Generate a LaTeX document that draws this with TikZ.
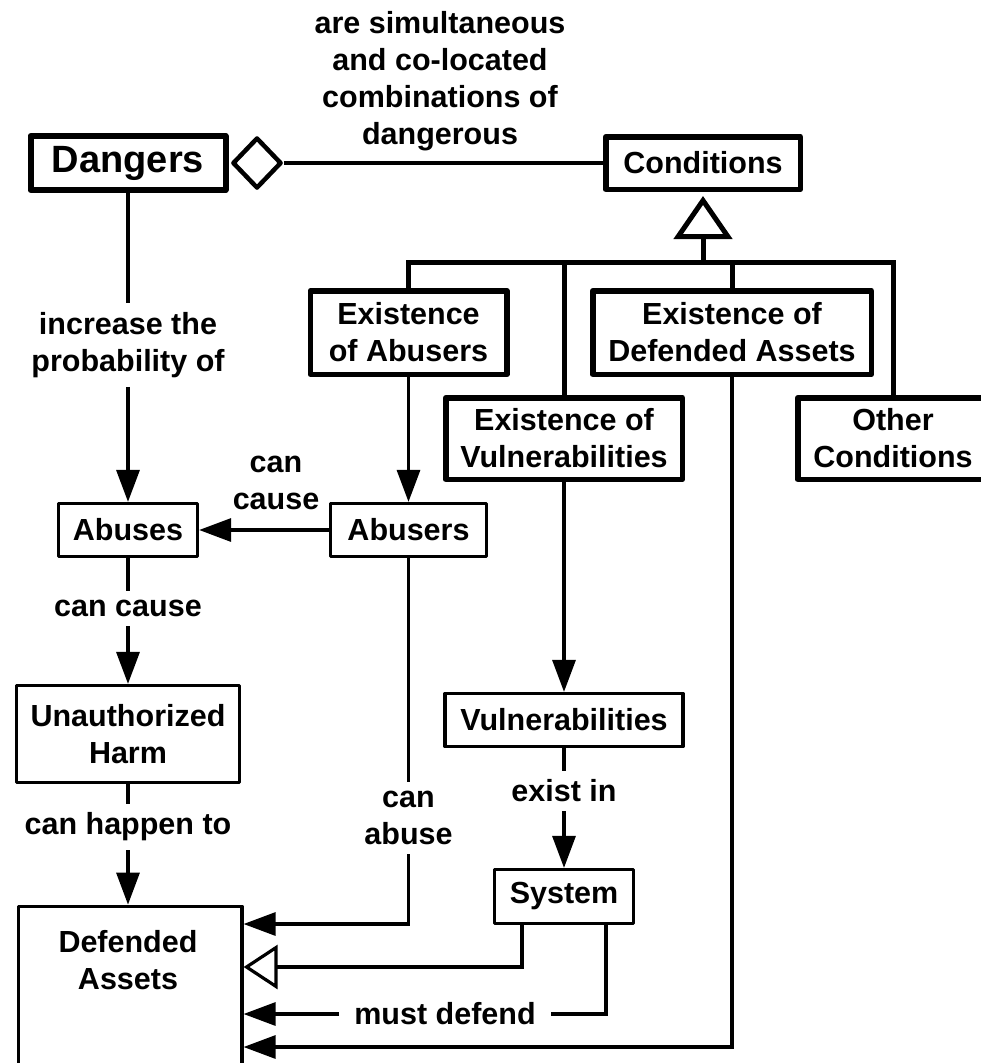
\documentclass[tikz,border=0pt]{standalone}
\usepackage{fontspec}
\setmainfont{Liberation Sans}
\usetikzlibrary{arrows.meta,shapes.geometric,calc}

\begin{document}
\begin{tikzpicture}[x=1pt,y=-1pt,
  every node/.style={font=\bfseries\fontsize{30.5}{37}\selectfont},
  box/.style={draw, line width=3.2pt, line join=round, inner sep=0pt, align=center},
  heavybox/.style={box, line width=5.5pt},
  lbl/.style={align=center, inner xsep=12pt, inner ysep=9pt},
  conn/.style={line width=3.2pt},
  arr/.style={conn, -{Triangle[length=32pt,width=23pt]}},
  genarr/.style={conn, -{Triangle[open,length=34pt,width=44pt,fill=white]}},
  tree/.style={line width=5pt},
]
\useasboundingbox (0,0) rectangle (981,1063);

% top row: aggregate and its parts
\node[heavybox, line width=6pt, minimum width=195pt, minimum height=54pt,
      font=\bfseries\fontsize{38}{44}\selectfont] (dangers) at (128,163) {Dangers};
\node[heavybox, minimum width=194.5pt, minimum height=52.5pt] (conditions) at (703,163) {Conditions};
\node[diamond, draw, line width=4.5pt, line join=round, minimum width=49pt,
      minimum height=51pt, inner sep=0pt] (agg) at (257,163) {};
\draw[line width=4pt] (agg) -- (conditions);
\node[align=center] (combo) at (440,81) {are simultaneous\\and co-located\\combinations of\\dangerous};

% kinds of conditions
\node[heavybox, minimum width=196.5pt, minimum height=83.5pt] (ea) at (408.5,332.5) {Existence\\of Abusers};
\node[heavybox, minimum width=236.5pt, minimum height=81.5pt] (ev) at (564,438.5) {Existence of\\Vulnerabilities};
\node[heavybox, minimum width=278.5pt, minimum height=83.5pt] (ed) at (732,332.5) {Existence of\\Defended Assets};
\node[heavybox, minimum width=190.5pt, minimum height=81.5pt] (oc) at (893,438.5) {Other\\Conditions};

\coordinate (barmid) at (703,262);
\draw[tree, shorten >=4pt, -{Triangle[open,length=43pt,width=58pt,fill=white]}] (barmid) -- (conditions);
\draw[tree] (ea.north) |- (barmid) -| (oc.north);
\draw[tree] (ev) -- (ev |- barmid);
\draw[tree] (ed) -- (ed |- barmid);

% plain boxes
\node[box, minimum width=139pt, minimum height=53pt] (abuses) at (128,530) {Abuses};
\node[box, minimum width=156pt, minimum height=53pt] (abusers) at (408.5,530) {Abusers};
\node[box, minimum width=223pt, minimum height=97pt] (harm) at (128,734) {Unauthorized\\Harm};
\node[box, minimum width=238pt, minimum height=53pt] (vuln) at (564,720) {Vulnerabilities};
\node[box, minimum width=139pt, minimum height=54pt] (system) at (564,896.5) {System};
\node[box, anchor=north west, minimum width=223.8pt, minimum height=200pt] (da) at (16.6,904.6) {};
\node[align=center] (datext) at (128,960) {Defended\\Assets};

% connector labels
\node[lbl] (incr) at (128,345) {increase the\\probability of};
\node[lbl] (cancause1) at (276,483) {can\\cause};
\node[lbl] (cancause2) at (128,608.5) {can cause};
\node[lbl] (canhappen) at (128,827) {can happen to};
\node[lbl] (canabuse) at (408.5,818) {can\\abuse};
\node[lbl] (existin) at (564,791) {exist in};
\node[lbl, inner xsep=15pt] (mustdef) at (445,1014) {must defend};

% left column
\draw[conn] (dangers) -- (incr);
\draw[arr] (incr) -- (abuses);
\draw[arr] (abusers) -- (abuses);
\draw[conn] (abuses) -- (cancause2);
\draw[arr] (cancause2) -- (harm);
\draw[conn] (harm) -- (canhappen);
\draw[arr] (canhappen) -- (canhappen |- da.north);

% middle and right
\draw[arr] (ea) -- (abusers);
\draw[conn] (abusers) -- (canabuse);
\draw[arr] (canabuse) |- ([yshift=-19.4pt]da.north east);
\draw[arr] (ev) -- (vuln);
\draw[conn] (vuln) -- (existin);
\draw[arr] (existin) -- (system);
\draw[genarr] ([xshift=-42pt]system.south) |- ([yshift=-62.4pt]da.north east);
\draw[conn] ([xshift=42pt]system.south) |- (mustdef);
\draw[arr] (mustdef) -- (mustdef -| da.east);
\draw[arr] (ed) |- ([yshift=-142.4pt]da.north east);
\end{tikzpicture}
\end{document}
